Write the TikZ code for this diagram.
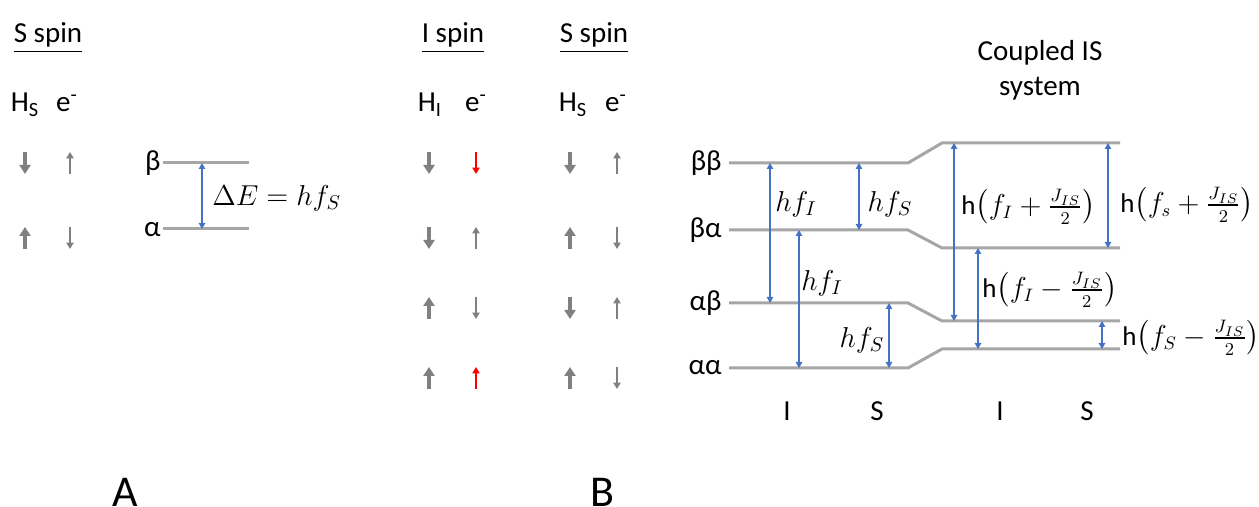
\documentclass[tikz,border=0pt]{standalone}
\usepackage{amsmath}
\usepackage{fontspec}
\setmainfont{Carlito}
\usetikzlibrary{arrows.meta}
\definecolor{levelgray}{RGB}{166,166,166}
\definecolor{spingray}{RGB}{128,128,128}
\definecolor{gapblue}{RGB}{68,114,196}

\begin{document}
\begin{tikzpicture}[x=0.5pt,y=-0.5pt,>=Stealth,
  every node/.style={font=\fontsize{14.5}{17.5}\selectfont},
  level/.style={levelgray,line width=1.5pt},
  gap/.style={gapblue,line width=0.7pt,{Triangle[length=3pt,width=3.2pt]}-{Triangle[length=3pt,width=3.2pt]}},
  heavyspin/.style={spingray,line width=2.2pt,-{Triangle[length=4.5pt,width=5.5pt]}},
  lightspin/.style={spingray,line width=1pt,-{Triangle[length=3.2pt,width=3.6pt]}},
  coupling/.style={right,inner sep=0pt,font=\fontsize{13.5}{16}\selectfont},
  panel/.style={inner sep=0pt,font=\fontsize{22}{26}\selectfont}]
\useasboundingbox (0,0) rectangle (1259,507);

% headings
\node[anchor=base] (headA) at (48,43) {\underline{S spin}};
\node[anchor=base] (headI) at (453,43) {\underline{I spin}};
\node[anchor=base] (headS) at (594,43) {\underline{S spin}};
\node[anchor=base] (hsA) at (25,112) {H\textsubscript{S}};
\node[anchor=base] (esA) at (67,112) {e\textsuperscript{-}};
\node[anchor=base] (hiB) at (430,112) {H\textsubscript{I}};
\node[anchor=base] (eiB) at (476,112) {e\textsuperscript{-}};
\node[anchor=base] (hsB) at (573,112) {H\textsubscript{S}};
\node[anchor=base] (esB) at (616,112) {e\textsuperscript{-}};

% spin arrows (1 = down, -1 = up)
\foreach \x/\y/\d in {25/163/1,25/238/-1,429/163/1,429/238/1,429/308/-1,429/378/-1,
  570/163/1,570/238/-1,570/308/1,570/378/-1}
  \draw[heavyspin] (\x,{\y-11*\d})--(\x,{\y+11*\d});
\foreach \x/\y/\d in {70/163/-1,70/238/1,476/238/-1,476/308/1,
  617/163/-1,617/238/1,617/308/-1,617/378/1}
  \draw[lightspin] (\x,{\y-11*\d})--(\x,{\y+11*\d});
\draw[lightspin,red] (476,152)--(476,174);
\draw[lightspin,red] (476,389)--(476,367);

% panel A levels
\draw[level] (163,163)--(249,163);
\draw[level] (163,229)--(249,229);
\node[left,inner sep=1pt] (betaA) at (163,163) {β};
\node[left,inner sep=1pt] (alphaA) at (163,230) {α};
\draw[gap] (202,163)--(202,229);
\node[right,inner sep=1pt] (dE) at (210,198) {$\Delta E = hf_S$};

% panel B levels
\draw[level] (729,163)--(908,163)--(942,143)--(1120,143);
\draw[level] (729,230)--(908,230)--(942,248)--(1120,248);
\draw[level] (729,303)--(908,303)--(942,321)--(1120,321);
\draw[level] (729,368)--(908,368)--(942,349)--(1120,349);
\node[left,inner sep=1pt] (bb) at (724,163) {ββ};
\node[left,inner sep=1pt] (ba) at (724,230) {βα};
\node[left,inner sep=1pt] (ab) at (724,303) {αβ};
\node[left,inner sep=1pt] (aa) at (724,368) {αα};

% transitions
\draw[gap] (770,163)--(770,303);
\draw[gap] (859,163)--(859,230);
\draw[gap] (799,230)--(799,368);
\draw[gap] (889,303)--(889,368);
\draw[gap] (954,143)--(954,321);
\draw[gap] (978,248)--(978,349);
\draw[gap] (1108,143)--(1108,248);
\draw[gap] (1102,321)--(1102,349);
\node (fI1) at (796,204) {$hf_I$};
\node (fS1) at (890,204) {$hf_S$};
\node (fI2) at (822,283) {$hf_I$};
\node (fS2) at (862,340) {$hf_S$};
\node[coupling] (cI1) at (961,207) {h$\left(f_I+\frac{J_{IS}}{2}\right)$};
\node[coupling] (cI2) at (982,290) {h$\left(f_I-\frac{J_{IS}}{2}\right)$};
\node[coupling] (cS1) at (1120,205) {h$\left(f_s+\frac{J_{IS}}{2}\right)$};
\node[coupling] (cS2) at (1122,338) {h$\left(f_S-\frac{J_{IS}}{2}\right)$};
\node[align=center] (coupled) at (1040,70) {Coupled IS\\system};

% axis labels
\node (lI1) at (787,411) {I};
\node (lS1) at (877,411) {S};
\node (lI2) at (1000,411) {I};
\node (lS2) at (1087,411) {S};
\node[panel] (pA) at (125,492) {A};
\node[panel] (pB) at (602,492) {B};
\end{tikzpicture}
\end{document}
